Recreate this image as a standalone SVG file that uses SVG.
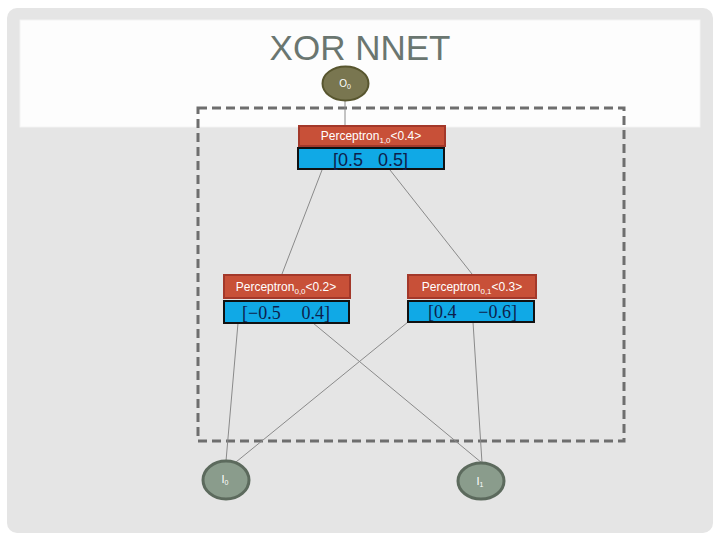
<svg xmlns="http://www.w3.org/2000/svg" width="720" height="540" viewBox="0 0 720 540">
<style>
.red{fill:#c85038;stroke:#a3382a;stroke-width:2}
.blue{fill:#10a9e6;stroke:#111;stroke-width:2}
.rt{font-family:"Liberation Sans",Arial,sans-serif;font-size:12px;fill:#fff}
.bt{font-family:"Liberation Serif","Times New Roman",serif;font-size:18px;fill:#0d1f4d}
.bs{font-family:"Liberation Sans",Arial,sans-serif;font-size:18px;fill:#0d1f4d}
.olive{fill:#797650;stroke:#58562f;stroke-width:2}
.inp{fill:#8a9c8c;stroke:#5c6a5d;stroke-width:3}
.nt{font-family:"Liberation Sans",Arial,sans-serif;fill:#fff}
.conn line{stroke:#8a8a8a;stroke-width:1}
</style>
<rect x="0" y="0" width="720" height="540" fill="#ffffff"/>
<rect x="7" y="8" width="706" height="525" rx="10" fill="#e5e5e5"/>
<rect x="20" y="20" width="680" height="107" fill="#fdfdfd" stroke="#f4f4f4" stroke-width="1"/>
<text x="360" y="60" text-anchor="middle" font-family="'Liberation Sans',Arial,sans-serif" font-size="35" fill="#6a7670">XOR NNET</text>
<rect x="198" y="108" width="426" height="333" fill="none" stroke="#6e6e6e" stroke-width="3" stroke-dasharray="9 5"/>
<g class="conn" id="connectors">
<line x1="345" y1="101" x2="345" y2="125"/>
<line x1="322" y1="170" x2="282" y2="274"/>
<line x1="390" y1="170" x2="472" y2="274"/>
<line x1="238" y1="323" x2="226" y2="461"/>
<line x1="313" y1="323" x2="482" y2="463"/>
<line x1="408" y1="322" x2="236" y2="462"/>
<line x1="473" y1="322" x2="482" y2="463"/>
</g>
<g id="O0">
<ellipse class="olive" cx="345.5" cy="83.5" rx="23" ry="17"/>
<text class="nt" x="345" y="87" text-anchor="middle" font-size="10">O<tspan font-size="7" dy="2">0</tspan></text>
</g>
<g id="P10">
<rect class="red" x="299" y="126" width="146" height="20"/>
<text class="rt" x="371" y="140" text-anchor="middle">Perceptron<tspan font-size="8" dy="3">1,0</tspan><tspan dy="-3">&lt;0.4&gt;</tspan></text>
<rect class="blue" x="298" y="148" width="146" height="21"/>
<text class="bs" x="333" y="166">[0.5</text>
<text class="bs" x="408" y="166" text-anchor="end">0.5]</text>
</g>
<g id="P00">
<rect class="red" x="224" y="275" width="126" height="23"/>
<text class="rt" x="286" y="291" text-anchor="middle">Perceptron<tspan font-size="8" dy="3">0,0</tspan><tspan dy="-3">&lt;0.2&gt;</tspan></text>
<rect class="blue" x="224" y="301" width="125" height="22"/>
<text class="bt" x="242" y="319">[−0.5</text>
<text class="bt" x="330" y="319" text-anchor="end">0.4]</text>
</g>
<g id="P01">
<rect class="red" x="408" y="275" width="128" height="23"/>
<text class="rt" x="472" y="291" text-anchor="middle">Perceptron<tspan font-size="8" dy="3">0,1</tspan><tspan dy="-3">&lt;0.3&gt;</tspan></text>
<rect class="blue" x="408" y="301" width="126" height="21"/>
<text class="bt" x="428" y="318">[0.4</text>
<text class="bt" x="517" y="318" text-anchor="end">−0.6]</text>
</g>
<g id="I0">
<ellipse class="inp" cx="226" cy="480" rx="23" ry="19"/>
<text class="nt" x="225" y="483" text-anchor="middle" font-size="11">I<tspan font-size="7" dy="2">0</tspan></text>
</g>
<g id="I1">
<ellipse class="inp" cx="481" cy="481" rx="23" ry="18"/>
<text class="nt" x="480" y="485" text-anchor="middle" font-size="11">I<tspan font-size="7" dy="2">1</tspan></text>
</g>
</svg>
